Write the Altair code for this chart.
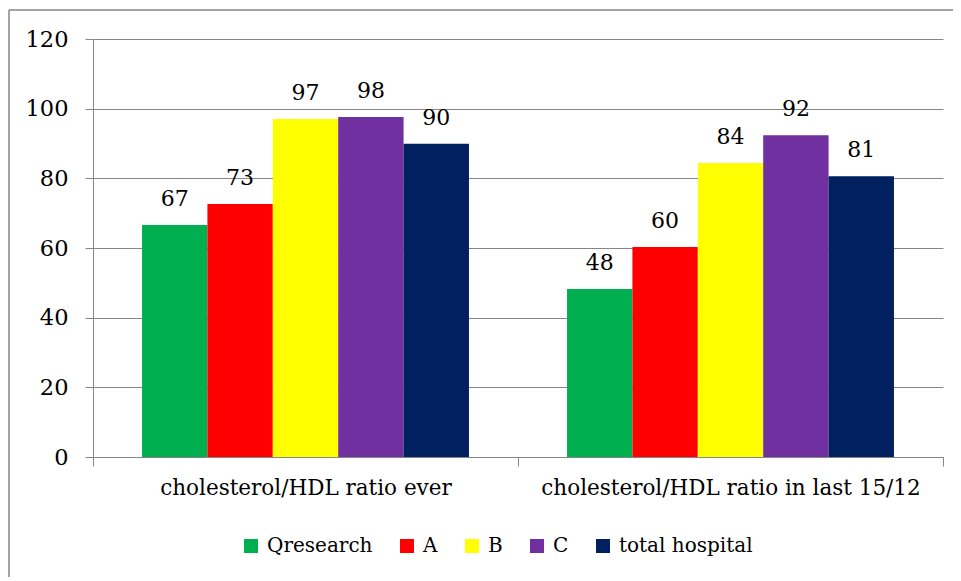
import altair as alt
import pandas as pd

categories = ["cholesterol/HDL ratio ever", "cholesterol/HDL ratio in last 15/12"]
series = ["Qresearch", "A", "B", "C", "total hospital"]
values_ever = [66.6, 72.6, 97.0, 97.6, 89.9]
values_last = [48.2, 60.3, 84.4, 92.4, 80.6]
colors = ["#00B050", "#FF0000", "#FFFF00", "#7030A0", "#002060"]
y_ticks = [0, 20, 40, 60, 80, 100, 120]

rows = []
for cat, vals in zip(categories, [values_ever, values_last]):
    for s, v in zip(series, vals):
        rows.append({"category": cat, "series": s, "value": v})
df = pd.DataFrame(rows)

FONT = "DejaVu Serif"
GRAY = "#868686"

base = alt.Chart(df).encode(
    x=alt.X(
        "category:N",
        sort=categories,
        scale=alt.Scale(paddingInner=0, paddingOuter=0),
        axis=alt.Axis(
            title=None, labelAngle=0, tickBand="extent", tickSize=9,
            labelPadding=11, domainColor=GRAY, tickColor=GRAY, grid=False,
            labelFont=FONT, labelFontSize=21.5, labelColor="#000000", labelLimit=600,
        ),
    ),
    xOffset=alt.XOffset(
        "series:N", sort=series,
        scale=alt.Scale(paddingInner=0, paddingOuter=0.75),
    ),
    y=alt.Y(
        "value:Q",
        scale=alt.Scale(domain=[0, 120], nice=False),
        axis=alt.Axis(
            title=None, values=y_ticks, tickSize=8, labelPadding=17,
            domainColor=GRAY, tickColor=GRAY, gridColor=GRAY, grid=True,
            labelFont=FONT, labelFontSize=22.5, labelColor="#000000",
        ),
    ),
)

bars = base.mark_bar(strokeWidth=0).encode(
    color=alt.Color(
        "series:N", sort=series,
        scale=alt.Scale(domain=series, range=colors),
        legend=alt.Legend(
            title=None, orient="none", legendX=148, legendY=497,
            direction="horizontal", symbolType="square", symbolSize=196,
            symbolStrokeWidth=0, symbolOpacity=1, columnPadding=24, labelOffset=6,
            labelFont=FONT, labelFontSize=20, labelColor="#000000", labelLimit=400,
        ),
    )
)

labels = base.mark_text(
    baseline="bottom", dy=-14, font=FONT, fontSize=22, color="#000000"
).encode(text=alt.Text("value:Q", format=".0f"))

frame_df = pd.DataFrame({"k": [0]})
top_line = alt.Chart(frame_df).mark_rule(color=GRAY, strokeWidth=1.5).encode(
    x=alt.value(-84), x2=alt.value(880), y=alt.value(-29), y2=alt.value(-29)
)
left_line = alt.Chart(frame_df).mark_rule(color=GRAY, strokeWidth=1.5).encode(
    x=alt.value(-84), x2=alt.value(-84), y=alt.value(-29), y2=alt.value(540)
)

chart = alt.layer(bars, labels, top_line, left_line).properties(
    width=850, height=418,
    autosize=alt.AutoSizeParams(type="none"),
    padding={"left": 85, "top": 31, "right": 10, "bottom": 120},
).configure_view(stroke=None)

chart.save("out.html", embed_options={"renderer": "svg", "actions": False})
